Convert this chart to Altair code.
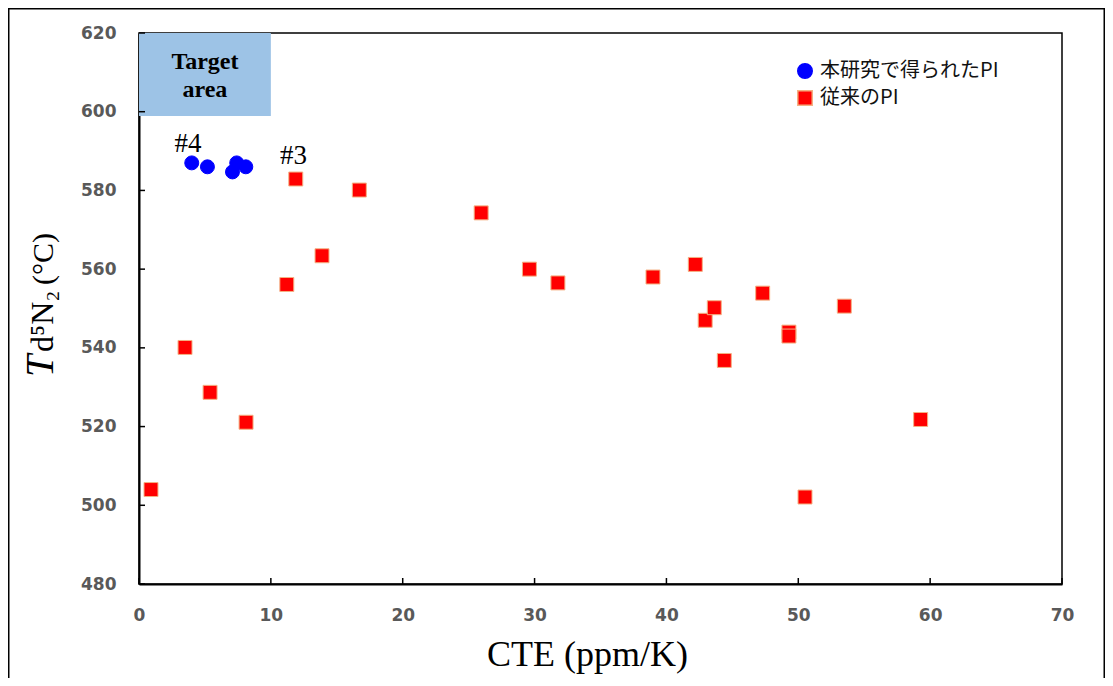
import altair as alt
import pandas as pd

# ---------------- data ----------------
series_names = ["本研究で得られたPI", "従来のPI"]

blue_cte = [4.00, 5.19, 7.09, 7.41, 8.10]
blue_td = [587.0, 586.0, 584.7, 587.0, 586.0]

red_cte = [0.91, 3.49, 5.39, 8.12, 11.21, 11.89, 13.88, 16.71, 25.95, 29.61,
           31.77, 38.98, 42.19, 42.94, 43.63, 44.39, 47.30, 49.29, 49.29, 50.51,
           53.49, 59.28]
red_td = [504.0, 540.1, 528.7, 521.1, 556.1, 582.9, 563.4, 580.1, 574.3, 560.0,
          556.5, 558.0, 561.2, 547.0, 550.2, 536.8, 553.9, 544.0, 543.0, 502.1,
          550.6, 521.8]

x_ticks = [0, 10, 20, 30, 40, 50, 60, 70]
y_ticks = [480, 500, 520, 540, 560, 580, 600, 620]

annot_text = ["#4", "#3"]
annot_cte = [3.72, 11.72]
annot_td = [589.8, 586.7]

target_x = [0, 10]
target_y = [598.9, 620]
target_lines = ["Target", "area"]
target_line_td = [610.75, 603.8]

ytitle_parts = ["T", "d⁵N₂", "(°C)"]

# ---------------- tables ----------------
pts = pd.DataFrame({
    "cte": blue_cte + red_cte,
    "td": blue_td + red_td,
    "series": [series_names[0]] * len(blue_cte) + [series_names[1]] * len(red_cte),
})
ann = pd.DataFrame({"cte": annot_cte, "td": annot_td, "label": annot_text})
tgt = pd.DataFrame({"cte": [target_x[0]], "cte2": [target_x[1]],
                    "td": [target_y[0]], "td2": [target_y[1]]})
tgt_txt = pd.DataFrame({"cte": [5.0, 5.0], "td": target_line_td, "label": target_lines})
xt = pd.DataFrame({"cte": x_ticks})
yt = pd.DataFrame({"td": y_ticks})
one = pd.DataFrame({"a": [0]})

W, H = 923, 551

xscale = alt.Scale(domain=[0, 70], nice=False, zero=False)
yscale = alt.Scale(domain=[480, 620], nice=False, zero=False)

xaxis = alt.Axis(values=x_ticks, title="CTE (ppm/K)", ticks=False, tickSize=0,
                 labelPadding=23, labelFlush=False, titleFont="Liberation Serif", titleFontSize=36,
                 titleFontWeight="normal", titleColor="#000000",
                 titleX=448, titleY=81, titleBaseline="alphabetic", titleAnchor="start",
                 titleAlign="center")
yaxis = alt.Axis(values=y_ticks, title=None, ticks=False, tickSize=0, labelPadding=23,
                 labelFlush=False)


def X(field="cte"):
    return alt.X(f"{field}:Q", scale=xscale, axis=xaxis)


def Y(field="td"):
    return alt.Y(f"{field}:Q", scale=yscale, axis=yaxis)


# outer frame of the picture
frame = alt.Chart(one).mark_rect(fill="transparent", stroke="#000000", strokeWidth=1.5).encode(
    x=alt.value(-130.25), x2=alt.value(W + 42.25), y=alt.value(-24.25), y2=alt.value(H + 200)
)

target_rect = alt.Chart(tgt).mark_rect(color="#9DC3E6").encode(
    x=X("cte"), x2="cte2", y=Y("td"), y2="td2"
)
target_text = alt.Chart(tgt_txt).mark_text(
    font="Liberation Serif", fontWeight="bold", fontSize=24, color="#000000",
    align="center", baseline="alphabetic"
).encode(x=X(), y=Y(), text="label:N")

ticks_x = alt.Chart(xt).mark_rule(color="#000000", strokeWidth=1.5).encode(
    x=X(), y=alt.value(H), y2=alt.value(H - 6)
)
ticks_y = alt.Chart(yt).mark_rule(color="#000000", strokeWidth=1.5).encode(
    y=Y(), x=alt.value(0), x2=alt.value(6)
)

points = alt.Chart(pts).mark_point(filled=True, opacity=1, size=195).encode(
    x=X(), y=Y(),
    color=alt.Color("series:N", scale=alt.Scale(domain=series_names, range=["#0000FF", "#FF0000"]),
                    legend=alt.Legend(title=None, orient="none", legendX=656, legendY=28,
                                      symbolSize=210, labelFont="Noto Sans CJK JP",
                                      labelFontSize=20, labelColor="#111111", labelOffset=5,
                                      labelLimit=0, rowPadding=5, padding=0, symbolOpacity=1)),
    shape=alt.Shape("series:N", scale=alt.Scale(domain=series_names, range=["circle", "square"])),
    stroke=alt.Stroke("series:N", scale=alt.Scale(domain=series_names, range=["#0000FF", "#F4B183"]),
                      legend=None),
    strokeWidth=alt.value(1),
)

annot = alt.Chart(ann).mark_text(
    font="Liberation Serif", fontSize=27, color="#000000", align="center", baseline="alphabetic"
).encode(x=X(), y=Y(), text="label:N")

yt_T = alt.Chart(one).mark_text(
    text=ytitle_parts[0], font="Liberation Serif", fontStyle="italic", fontSize=40,
    angle=270, align="left", baseline="alphabetic", color="#000000"
).encode(x=alt.value(-86), y=alt.value(344))
yt_mid = alt.Chart(one).mark_text(
    text=ytitle_parts[1], font="Liberation Serif", fontSize=32,
    angle=270, align="left", baseline="alphabetic", color="#000000"
).encode(x=alt.value(-86), y=alt.value(319))
yt_unit = alt.Chart(one).mark_text(
    text=ytitle_parts[2], font="Liberation Serif", fontSize=30,
    angle=270, align="left", baseline="alphabetic", color="#000000"
).encode(x=alt.value(-86), y=alt.value(252))

chart = alt.layer(
    frame, target_rect, target_text, ticks_x, ticks_y, points, annot, yt_T, yt_mid, yt_unit
).properties(
    width=W, height=H,
    autosize=alt.AutoSizeParams(type="none"),
    padding={"left": 131, "top": 25, "right": 43, "bottom": 94},
).configure_view(
    stroke="#000000", strokeWidth=1.5
).configure_axis(
    grid=False, domainColor="#000000", domainWidth=2,
    labelFont="DejaVu Sans", labelFontWeight="bold", labelFontSize=17, labelColor="#595959"
)

chart.save("out.html", embed_options={"renderer": "svg", "actions": False})
